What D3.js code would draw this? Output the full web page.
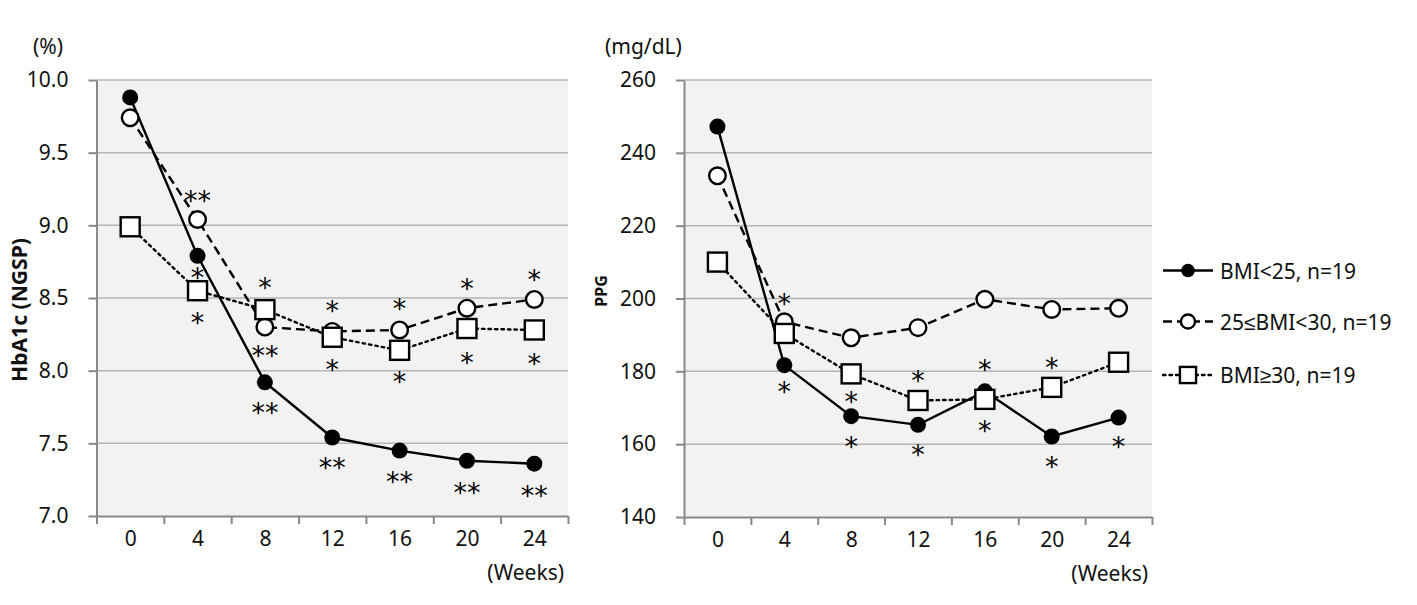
<!DOCTYPE html>
<html><head><meta charset="utf-8">
<script src="https://cdn.jsdelivr.net/npm/d3@7"></script>
<style>body{margin:0;background:#fff}</style>
</head><body><svg id="c" width="1417" height="605"></svg>
<script>
// ---- data ----
const weeks = [0, 4, 8, 12, 16, 20, 24];
const seriesNames = ["BMI<25, n=19", "25≤BMI<30, n=19", "BMI≥30, n=19"];
const hba1cLow  = [9.88, 8.79, 7.92, 7.54, 7.45, 7.38, 7.36];
const hba1cMid  = [9.74, 9.04, 8.30, 8.27, 8.28, 8.43, 8.49];
const hba1cHigh = [8.99, 8.55, 8.42, 8.23, 8.14, 8.29, 8.28];
const ppgLow  = [247.2, 181.7, 167.7, 165.3, 174.5, 162.1, 167.3];
const ppgMid  = [233.7, 193.6, 189.2, 192.0, 199.8, 197.0, 197.3];
const ppgHigh = [210.0, 190.4, 179.3, 172.0, 172.3, 175.6, 182.5];
const hba1cTicks = [7.0, 7.5, 8.0, 8.5, 9.0, 9.5, 10.0];
const ppgTicks = [140, 160, 180, 200, 220, 240, 260];
// significance marks: [week, value level, label]
const hba1cStars = [
  [4, 9.20, "**"], [4, 8.67, "*"], [4, 8.36, "*"],
  [8, 8.60, "*"], [8, 8.135, "**"], [8, 7.743, "**"],
  [12, 8.445, "*"], [12, 8.039, "*"], [12, 7.365, "**"],
  [16, 8.459, "*"], [16, 7.956, "*"], [16, 7.268, "**"],
  [20, 8.596, "*"], [20, 8.087, "*"], [20, 7.193, "**"],
  [24, 8.658, "*"], [24, 8.080, "*"], [24, 7.172, "**"]
];
const ppgStars = [
  [4, 199.9, "*"], [4, 175.7, "*"],
  [8, 173.0, "*"], [8, 160.6, "*"],
  [12, 178.7, "*"], [12, 158.4, "*"],
  [16, 181.7, "*"], [16, 165.0, "*"],
  [20, 182.2, "*"], [20, 155.1, "*"],
  [24, 160.6, "*"]
];

// ---- styles ----
const FONT = "'Noto Sans', 'Liberation Sans', Arial, sans-serif";
const styles = [
  {dash: null, marker: "filled"},
  {dash: "9,5", marker: "open"},
  {dash: "2.5,4", marker: "square"}
];

const svg = d3.select("#c");

function drawMarker(g, type, cx, cy, s) {
  if (type === "filled") {
    g.append("circle").attr("cx", cx).attr("cy", cy).attr("r", 8 * s).attr("fill", "#000");
  } else if (type === "open") {
    g.append("circle").attr("cx", cx).attr("cy", cy).attr("r", 8.3 * s)
      .attr("fill", "#fff").attr("stroke", "#000").attr("stroke-width", 2.4);
  } else {
    const h = 9.5 * s;
    g.append("rect").attr("x", cx - h).attr("y", cy - h).attr("width", 2 * h).attr("height", 2 * h)
      .attr("fill", "#fff").attr("stroke", "#000").attr("stroke-width", 2.4);
  }
}

function chart(cfg) {
  const g = svg.append("g");
  const x = d3.scaleLinear().domain([-2, 26]).range([cfg.x0, cfg.x1]);
  const y = d3.scaleLinear().domain(cfg.domain).range([cfg.y1, cfg.y0]);

  g.append("rect").attr("x", cfg.x0).attr("y", cfg.y0)
    .attr("width", cfg.x1 - cfg.x0).attr("height", cfg.y1 - cfg.y0).attr("fill", "#f2f2f2");

  // gridlines
  g.selectAll(".grid").data(cfg.ticks.slice(1)).join("line")
    .attr("x1", cfg.x0).attr("x2", cfg.x1)
    .attr("y1", d => y(d)).attr("y2", d => y(d))
    .attr("stroke", "#b4b4b4").attr("stroke-width", 1.5);

  // y axis
  const ya = g.append("g").attr("transform", `translate(${cfg.x0},0)`)
    .call(d3.axisLeft(y).tickValues(cfg.ticks).tickFormat(cfg.fmt).tickSizeOuter(0).tickSizeInner(8).tickPadding(20));
  ya.select(".domain").attr("stroke", "#888").attr("stroke-width", 2);
  ya.selectAll(".tick line").attr("stroke", "#888").attr("stroke-width", 2);
  ya.selectAll("text").attr("font-family", FONT).attr("font-size", 21).attr("fill", "#111");

  // x axis: boundary ticks
  const xb = g.append("g").attr("transform", `translate(0,${cfg.y1})`)
    .call(d3.axisBottom(x).tickValues(d3.range(-2, 27, 4)).tickFormat("").tickSizeOuter(0).tickSizeInner(8));
  xb.select(".domain").attr("stroke", "#888").attr("stroke-width", 2);
  xb.selectAll(".tick line").attr("stroke", "#888").attr("stroke-width", 2);
  const xl = g.append("g").attr("transform", `translate(0,${cfg.y1})`)
    .call(d3.axisBottom(x).tickValues(weeks).tickSize(0).tickPadding(15));
  xl.select(".domain").remove();
  xl.selectAll("text").attr("font-family", FONT).attr("font-size", 21).attr("fill", "#111");

  g.append("text").attr("x", cfg.x1 - 4).attr("y", cfg.y1 + 64).attr("text-anchor", "end")
    .attr("font-family", FONT).attr("font-size", 21).attr("fill", "#111").text("(Weeks)");

  g.append("text").attr("x", cfg.unitX).attr("y", 54)
    .attr("font-family", FONT).attr("font-size", 21).attr("fill", "#111").text(cfg.unit);

  const t = g.append("text")
    .attr("transform", `translate(${cfg.titleX},${cfg.titleY}) rotate(-90)`)
    .attr("text-anchor", "middle").attr("font-family", FONT).attr("font-weight", "bold")
    .attr("font-size", cfg.titleSize).attr("fill", "#111").text(cfg.title);
  if (cfg.titleLen) t.attr("textLength", cfg.titleLen).attr("lengthAdjust", "spacingAndGlyphs");

  const line = d3.line().x((d, i) => x(weeks[i])).y(d => y(d));
  cfg.series.forEach((vals, si) => {
    const st = styles[si];
    g.append("path").datum(vals).attr("d", line).attr("fill", "none")
      .attr("stroke", "#000").attr("stroke-width", 2.4)
      .attr("stroke-dasharray", st.dash).attr("stroke-linecap", si === 2 ? "round" : "butt");
    vals.forEach((v, i) => drawMarker(g, st.marker, x(weeks[i]), y(v), 1));
  });

  g.selectAll(".star").data(cfg.stars).join("text")
    .attr("x", d => x(d[0])).attr("y", d => y(d[1]) + 14)
    .attr("text-anchor", "middle").attr("font-family", "'DejaVu Sans', sans-serif")
    .attr("font-size", 27).attr("fill", "#000").text(d => d[2]);
}

chart({x0: 96.5, x1: 568, y0: 80, y1: 516, domain: [7, 10], ticks: hba1cTicks,
  fmt: d3.format(".1f"), unit: "(%)", unitX: 33, title: "HbA1c (NGSP)",
  titleX: 27, titleY: 310, titleSize: 21, titleLen: 144,
  series: [hba1cLow, hba1cMid, hba1cHigh], stars: hba1cStars});

chart({x0: 684, x1: 1152, y0: 80, y1: 517, domain: [140, 260], ticks: ppgTicks,
  fmt: d3.format("d"), unit: "(mg/dL)", unitX: 605, title: "PPG",
  titleX: 607, titleY: 291, titleSize: 16, titleLen: null,
  series: [ppgLow, ppgMid, ppgHigh], stars: ppgStars});

// legend
const lg = svg.append("g");
const legendY = [270.5, 321.5, 375];
seriesNames.forEach((name, i) => {
  const st = styles[i];
  lg.append("line").attr("x1", 1163).attr("x2", 1213).attr("y1", legendY[i]).attr("y2", legendY[i])
    .attr("stroke", "#000").attr("stroke-width", 2.4).attr("stroke-dasharray", st.dash)
    .attr("stroke-linecap", i === 2 ? "round" : "butt");
  drawMarker(lg, st.marker, 1188, legendY[i], 0.85);
  lg.append("text").attr("x", 1220).attr("y", legendY[i] + 8)
    .attr("font-family", FONT).attr("font-size", 21).attr("fill", "#111").text(name);
});
</script></body></html>
